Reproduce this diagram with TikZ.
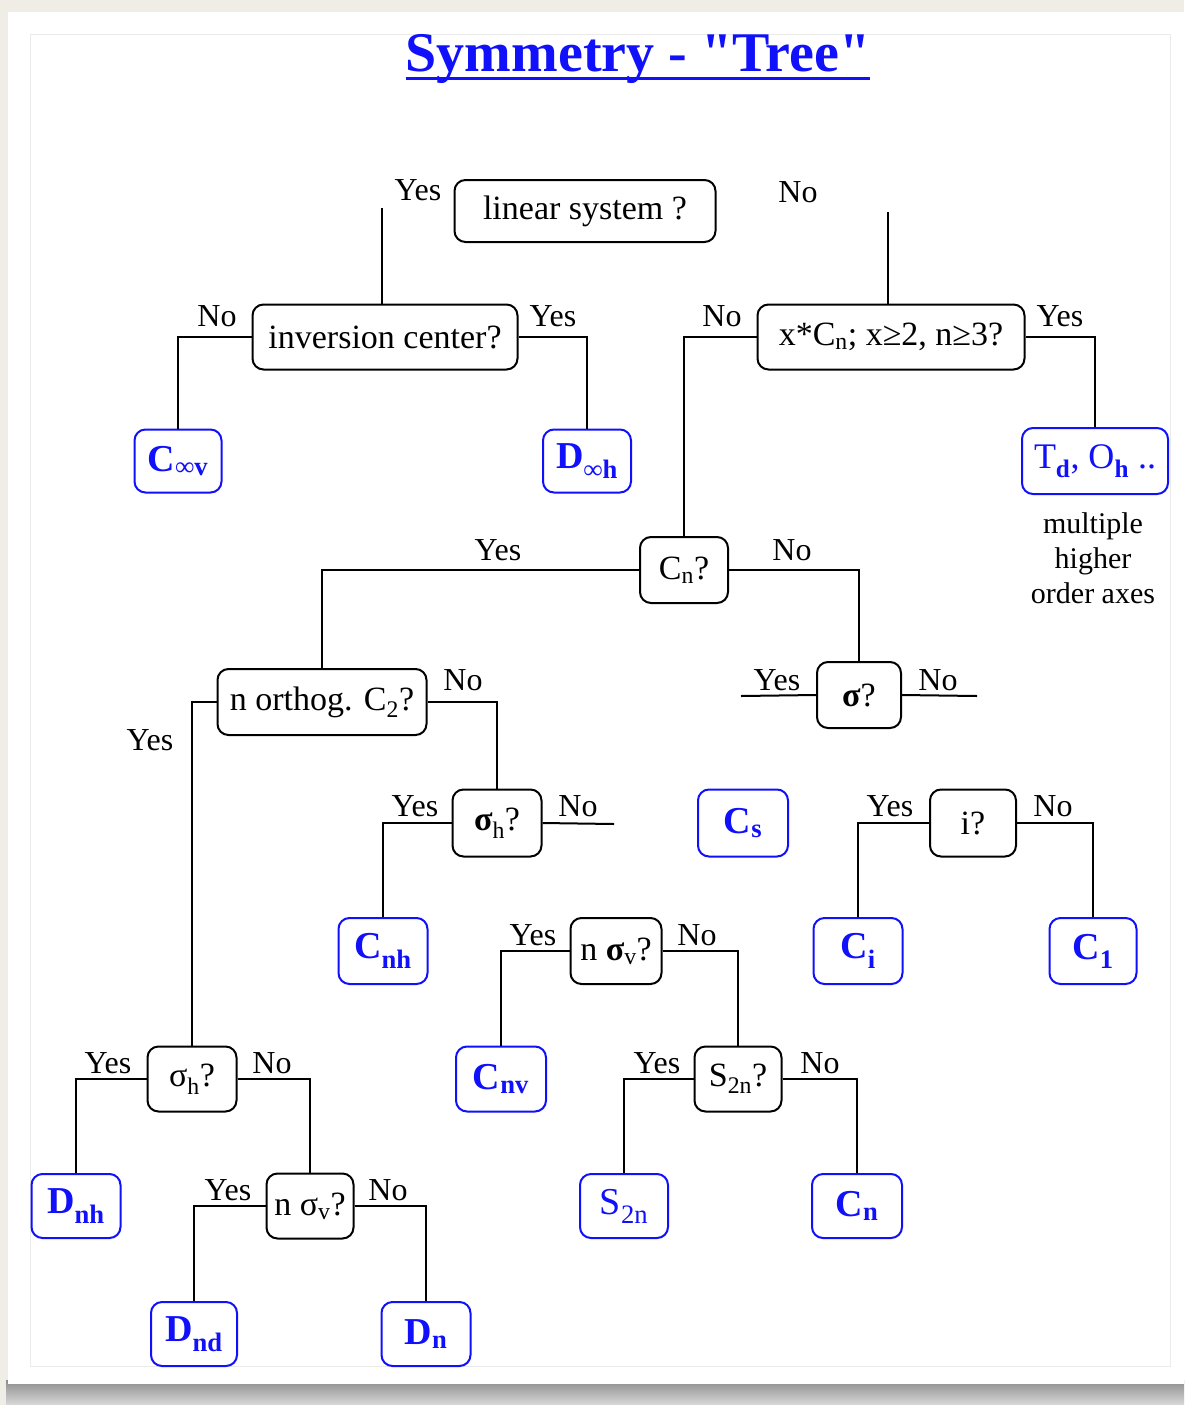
\documentclass[tikz,border=0pt]{standalone}
\usepackage{fontspec}
\setmainfont{Liberation Serif}
\newfontfamily\titlefont{Liberation Serif}[Ligatures=TeXOff]
\definecolor{resblue}{RGB}{16,16,250}
\definecolor{pagebg}{RGB}{240,237,231}
\newcommand\qsz{\fontsize{34}{38}\selectfont}
\newcommand\lsz{\fontsize{32}{36}\selectfont}
\newcommand\rsz{\fontsize{38}{42}\selectfont\bfseries}
\begin{document}
\begin{tikzpicture}[x=1pt,y=-1pt,
  qbox/.style={draw=black, line width=2pt, rounded corners=11pt, inner sep=0pt, font=\qsz},
  rbox/.style={draw=resblue, line width=2pt, rounded corners=11pt, inner sep=0pt, text=resblue, font=\rsz},
  yn/.style={font=\lsz, inner sep=0pt},
  link/.style={line width=2pt}]
% page, card and shadow
\useasboundingbox (0,0) rectangle (1184,1405);
\fill[pagebg] (0,0) rectangle (1184,1405);
\shade[top color=black!45, bottom color=black!15] (6,1380) rectangle (1184,1405);
\fill[white] (8,12) rectangle (1184,1384);
\draw[black!8, line width=1pt] (30,35) rectangle (1170,1366);

% title
\node[font=\titlefont\fontsize{56}{60}\selectfont\bfseries, text=resblue, inner sep=0pt] (title) at (638,59) {Symmetry - "Tree"};
\draw[resblue, line width=2.5pt] ([yshift=-7pt]title.base west) -- ([yshift=-7pt]title.base east);

% decision boxes
\node[qbox, minimum width=261pt, minimum height=62pt] (lin) at (585,211) {linear system ?};
\node[qbox, minimum width=265pt, minimum height=65pt] (inv) at (385,337) {inversion center?};
\node[qbox, minimum width=267pt, minimum height=65pt] (xcn) at (891,337) {x*C\textsubscript{n}; x≥2, n≥3?};
\node[qbox, minimum width=88pt, minimum height=66pt] (cnq) at (684,570) {C\textsubscript{n}?};
\node[qbox, minimum width=84pt, minimum height=66pt] (sig) at (859,695) {\textbf{σ}?};
\node[qbox, minimum width=209pt, minimum height=66pt] (orth) at (322,702) {n orthog. C\textsubscript{2}?};
\node[qbox, minimum width=89pt, minimum height=67pt] (sighm) at (497,823) {\textbf{σ}\textsubscript{h}?};
\node[qbox, minimum width=86pt, minimum height=67pt] (iq) at (973,823) {i?};
\node[qbox, minimum width=91pt, minimum height=66pt] (nsv) at (616,951) {n \textbf{σ}\textsubscript{v}?};
\node[qbox, minimum width=87pt, minimum height=65pt] (s2nq) at (738,1079) {S\textsubscript{2n}?};
\node[qbox, minimum width=89pt, minimum height=65pt] (sighl) at (192,1079) {σ\textsubscript{h}?};
\node[qbox, minimum width=87pt, minimum height=65pt] (nsvl) at (310,1206) {n σ\textsubscript{v}?};

% point groups
\node[rbox, minimum width=87pt, minimum height=63pt] (cinfv) at (178,461) {C\textsubscript{∞v}};
\node[rbox, minimum width=88pt, minimum height=63pt] (dinfh) at (587,461) {D\textsubscript{∞h}};
\node[rbox, minimum width=146pt, minimum height=66pt, font=\fontsize{36}{40}\selectfont] (tdoh) at (1095,461) {T\textsubscript{\textbf{d}}, O\textsubscript{\textbf{h}} ..};
\node[rbox, minimum width=90pt, minimum height=67pt] (cs) at (743,823) {C\textsubscript{s}};
\node[rbox, minimum width=89pt, minimum height=66pt] (cnh) at (383,951) {C\textsubscript{nh}};
\node[rbox, minimum width=89pt, minimum height=66pt] (ci) at (858,951) {C\textsubscript{i}};
\node[rbox, minimum width=87pt, minimum height=66pt] (c1) at (1093,951) {C\textsubscript{1}};
\node[rbox, minimum width=90pt, minimum height=65pt] (cnv) at (501,1079) {C\textsubscript{nv}};
\node[rbox, minimum width=88pt, minimum height=64pt, font=\fontsize{38}{42}\selectfont] (s2n) at (624,1206) {S\textsubscript{2n}};
\node[rbox, minimum width=90pt, minimum height=64pt] (cn) at (857,1206) {C\textsubscript{n}};
\node[rbox, minimum width=89pt, minimum height=64pt] (dnh) at (76,1206) {D\textsubscript{nh}};
\node[rbox, minimum width=86pt, minimum height=64pt] (dnd) at (194,1334) {D\textsubscript{nd}};
\node[rbox, minimum width=89pt, minimum height=64pt] (dn) at (426,1334) {D\textsubscript{n}};

\node[font=\fontsize{30}{35}\selectfont, align=center, inner sep=0pt] (axes) at (1093,558) {multiple\\higher\\order axes};

% connectors
\coordinate (linY) at (382,208);
\coordinate (linN) at (888,212);
\coordinate (sigY) at (741,696);
\coordinate (sigN) at (977,696);
\coordinate (sighmN) at (614,824);
\draw[link] (linY) -- (linY |- inv.north);
\draw[link] (linN) -- (linN |- xcn.north);
\draw[link] (inv.west) -| (cinfv.north);
\draw[link] (inv.east) -| (dinfh.north);
\draw[link] (xcn.west) -| (cnq.north);
\draw[link] (xcn.east) -| (tdoh.north);
\draw[link] (cnq.west) -| (orth.north);
\draw[link] (cnq.east) -| (sig.north);
\draw[link] (sig.west) -- (sigY);
\draw[link] (sig.east) -- (sigN);
\draw[link] (orth.west) -| (sighl.north);
\draw[link] (orth.east) -| (sighm.north);
\draw[link] (sighm.west) -| (cnh.north);
\draw[link] (sighm.east) -- (sighmN);
\draw[link] (iq.west) -| (ci.north);
\draw[link] (iq.east) -| (c1.north);
\draw[link] (nsv.west) -| (cnv.north);
\draw[link] (nsv.east) -| (s2nq.north);
\draw[link] (s2nq.west) -| (s2n.north);
\draw[link] (s2nq.east) -| (cn.north);
\draw[link] (sighl.west) -| (dnh.north);
\draw[link] (sighl.east) -| (nsvl.north);
\draw[link] (nsvl.west) -| (dnd.north);
\draw[link] (nsvl.east) -| (dn.north);

% branch labels
\node[yn] (l1) at (418,190) {Yes};
\node[yn] (l2) at (798,192) {No};
\node[yn] (l3) at (217,316) {No};
\node[yn] (l4) at (553,316) {Yes};
\node[yn] (l5) at (722,316) {No};
\node[yn] (l6) at (1060,316) {Yes};
\node[yn] (l7) at (498,550) {Yes};
\node[yn] (l8) at (792,550) {No};
\node[yn] (l9) at (777,680) {Yes};
\node[yn] (l10) at (938,680) {No};
\node[yn] (l11) at (463,680) {No};
\node[yn] (l12) at (150,740) {Yes};
\node[yn] (l13) at (415,806) {Yes};
\node[yn] (l14) at (578,806) {No};
\node[yn] (l15) at (890,806) {Yes};
\node[yn] (l16) at (1053,806) {No};
\node[yn] (l17) at (533,935) {Yes};
\node[yn] (l18) at (697,935) {No};
\node[yn] (l19) at (657,1063) {Yes};
\node[yn] (l20) at (820,1063) {No};
\node[yn] (l21) at (108,1063) {Yes};
\node[yn] (l22) at (272,1063) {No};
\node[yn] (l23) at (228,1190) {Yes};
\node[yn] (l24) at (388,1190) {No};
\end{tikzpicture}
\end{document}
